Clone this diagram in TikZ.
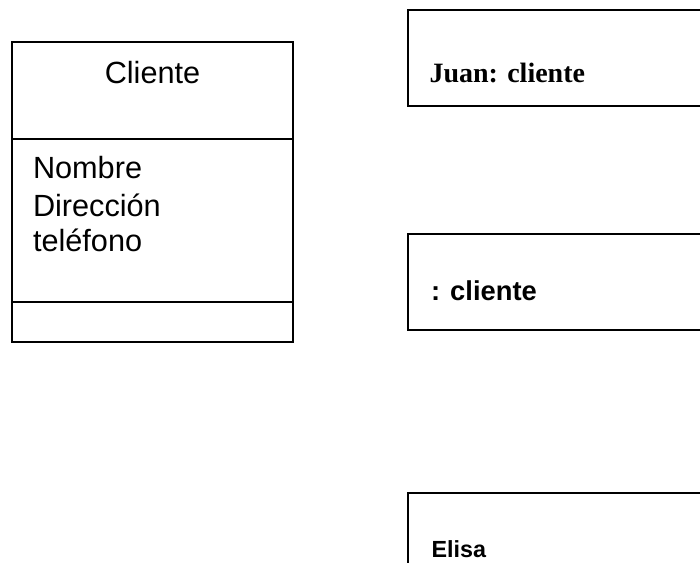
\documentclass[tikz,border=0pt]{standalone}
\usepackage{fontspec}
\setmainfont{Liberation Sans}
\newfontfamily\timesfont{Liberation Serif}
\begin{document}
\begin{tikzpicture}[x = 0.75pt, y = -0.75pt, line width = 1pt,
		txt/.style = {inner sep = 0pt, outer sep = 0pt}]
				\useasboundingbox (0,0) rectangle (700,563);
				\clip (0,0) rectangle (700,563);
				% clase Cliente
				\draw (12,42) rectangle (293,342);
				\draw (12,139) -- (293,139);
				\draw (12,302) -- (293,302);
				\node [txt, anchor = base, font = \fontsize{23}{27}\selectfont] (nombreclase) at (152.5,84) {Cliente};
				\node [txt, anchor = base west, font = \fontsize{23}{27}\selectfont] (atrnombre) at (33,179) {Nombre};
				\node [txt, anchor = base west, font = \fontsize{23}{27}\selectfont] (atrdireccion) at (33,216.5) {Dirección};
				\node [txt, anchor = base west, font = \fontsize{23}{27}\selectfont] (atrtelefono) at (33,252) {teléfono};
				% objetos
				\draw (408,10) rectangle (720,106);
				\node [txt, anchor = base west, font = \timesfont\bfseries\fontsize{21}{25}\selectfont] (juan) at (429.5,83) {Juan: cliente};
				\draw (408,234) rectangle (720,330);
				\node [txt, anchor = base west, font = \bfseries\fontsize{20.5}{25}\selectfont] (anonimo) at (431,300) {: cliente};
				\draw (408,493) rectangle (720,600);
				\node [txt, anchor = base west, font = \bfseries\fontsize{17.5}{22}\selectfont] (elisa) at (431.5,557) {Elisa};
		\end{tikzpicture}
\end{document}
